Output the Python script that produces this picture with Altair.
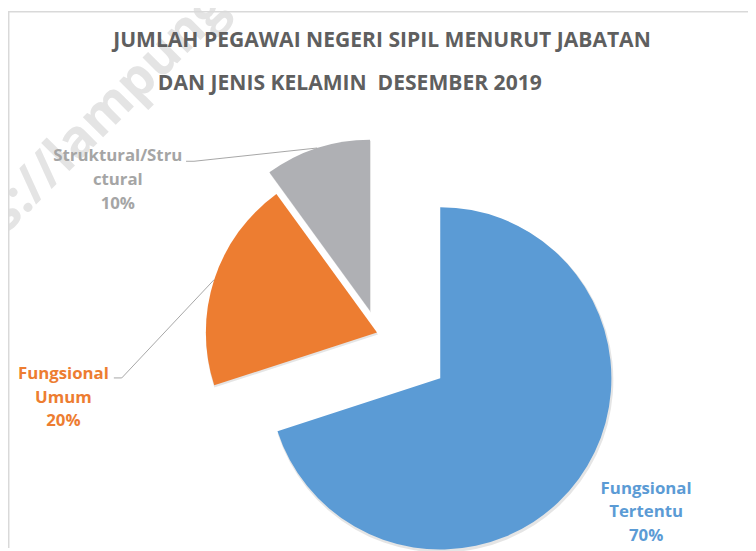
import altair as alt
import pandas as pd

# ---- data ----
categories = ["Fungsional Tertentu", "Fungsional Umum", "Struktural/Structural"]
values = [70, 20, 10]
label_names = [["Fungsional", "Tertentu"], ["Fungsional", "Umum"], ["Struktural/Stru", "ctural"]]
title_lines = ["JUMLAH PEGAWAI NEGERI SIPIL MENURUT JABATAN", "DAN JENIS KELAMIN\u00a0 DESEMBER 2019"]
watermark = "https://lampung.bps.go.id"

# ---- style / layout ----
W, H = 748, 543
CX, CY, R = 373, 325, 173
slice_colors = ["#5B9BD5", "#ED7D31", "#AFB0B4"]
label_colors = ["#5B9BD5", "#ED7D31", "#A5A5A5"]
explode = [79, 0, 23]
label_pos = [(645, 483), (56, 367), (111, 147)]  # first line centre
leader_start = [(None, None), (107, 371), (180, 152)]
title_pos = [(378, 30.5), (345.5, 74)]
FONT = "Open Sans"

rows = []
for i, (c, v) in enumerate(zip(categories, values)):
    rows.append({
        "cat": c, "value": v, "idx": i,
        "slice_color": slice_colors[i], "label_color": label_colors[i],
        "explode": explode[i],
        "lx": label_pos[i][0], "ly": label_pos[i][1],
        "text": label_names[i] + [f"{v}%"],
        "has_leader": leader_start[i][0] is not None,
        "sx": leader_start[i][0] if leader_start[i][0] is not None else 0,
        "sy": leader_start[i][1] if leader_start[i][1] is not None else 0,
    })
df = pd.DataFrame(rows)

base = (
    alt.Chart(df)
    .transform_joinaggregate(total="sum(value)")
    .transform_window(cum="sum(value)", sort=[alt.SortField("idx")], frame=[None, 0])
    .transform_calculate(
        end="2*PI*datum.cum/datum.total",
        start="2*PI*(datum.cum-datum.value)/datum.total",
    )
    .transform_calculate(mid="(datum.start+datum.end)/2")
    .transform_calculate(
        cx=f"{CX}+datum.explode*sin(datum.mid)",
        cy=f"{CY}-datum.explode*cos(datum.mid)",
    )
    .transform_calculate(
        ex=f"datum.cx+{R}*sin(datum.mid)",
        ey=f"datum.cy-{R}*cos(datum.mid)",
        sx2="datum.sx+8",
    )
)

xs = alt.X("cx:Q", scale=None, axis=None)
ys = alt.Y("cy:Q", scale=None, axis=None)

shadow = base.mark_arc(radius=R + 1, fill="#000000", fillOpacity=0.10).encode(
    x=alt.X("sxc:Q", scale=None, axis=None),
    y=alt.Y("syc:Q", scale=None, axis=None),
    theta=alt.Theta("start:Q", scale=None),
    theta2="end:Q",
).transform_calculate(sxc="datum.cx+1", syc="datum.cy+2")

arcs = base.mark_arc(radius=R).encode(
    x=xs, y=ys,
    theta=alt.Theta("start:Q", scale=None),
    theta2="end:Q",
    color=alt.Color("slice_color:N", scale=None),
    tooltip=["cat:N", "value:Q"],
)

labels = base.mark_text(
    font=FONT, fontWeight="bold", fontSize=17, lineHeight=24, baseline="middle", align="center"
).encode(
    x=alt.X("lx:Q", scale=None, axis=None),
    y=alt.Y("ly:Q", scale=None, axis=None),
    text="text",
    color=alt.Color("label_color:N", scale=None),
)

lead = base.transform_filter("datum.has_leader")
stub = lead.mark_rule(color="#A6A6A6", strokeWidth=1).encode(
    x=alt.X("sx:Q", scale=None, axis=None), x2="sx2:Q",
    y=alt.Y("sy:Q", scale=None, axis=None),
)
slant = lead.mark_rule(color="#A6A6A6", strokeWidth=1).encode(
    x=alt.X("sx2:Q", scale=None, axis=None), x2="ex:Q",
    y=alt.Y("sy:Q", scale=None, axis=None), y2="ey:Q",
)

tdf = pd.DataFrame({"t": title_lines, "tx": [p[0] for p in title_pos], "ty": [p[1] for p in title_pos]})
title = alt.Chart(tdf).mark_text(
    font=FONT, fontWeight="bold", fontSize=21.3, color="#5F5F5F", baseline="middle", align="center"
).encode(
    x=alt.X("tx:Q", scale=None, axis=None),
    y=alt.Y("ty:Q", scale=None, axis=None),
    text="t:N",
)

wdf = pd.DataFrame({"w": [watermark]})
wm = alt.Chart(wdf).mark_text(
    font=FONT, fontSize=53, fontWeight="bold", color="#E4E4E4", angle=315, align="left", baseline="alphabetic"
).encode(x=alt.value(-82), y=alt.value(306), text="w:N")

border_top = alt.Chart(wdf).mark_rule(color="#D9D9D9", strokeWidth=1.5).encode(
    x=alt.value(0), x2=alt.value(W), y=alt.value(0.75)
)
border_left = alt.Chart(wdf).mark_rule(color="#D9D9D9", strokeWidth=1.5).encode(
    x=alt.value(0.75), y=alt.value(0), y2=alt.value(H)
)

chart = (
    alt.layer(wm, border_top, border_left, title, shadow, arcs, stub, slant, labels)
    .properties(width=W, height=H, autosize=alt.AutoSizeParams(type="none"), padding=0)
    .configure_view(stroke=None)
)

chart.save("out.html", embed_options={"renderer": "svg", "actions": False})
